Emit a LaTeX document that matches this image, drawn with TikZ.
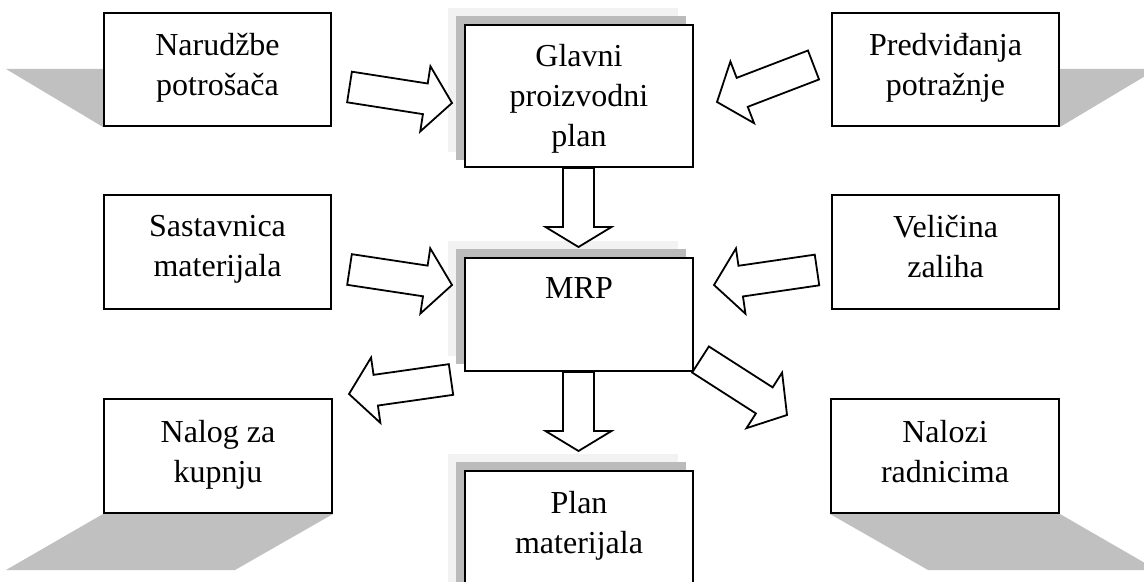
\documentclass[tikz,border=0pt]{standalone}
\usepackage{fontspec}
\setmainfont{Liberation Serif}
\usetikzlibrary{calc,backgrounds}
\definecolor{shadowdark}{HTML}{BBBBBB}
\definecolor{shadowlight}{HTML}{F2F2F2}
\definecolor{castshadow}{HTML}{C0C0C0}
\tikzset{
  box/.style={draw=black, line width=1pt, fill=white, inner sep=0pt},
  boxtext/.style={anchor=north, inner sep=0pt, align=center, font=\fontsize{16pt}{20pt}\selectfont},
  blockarrow/.style={draw=black, line width=0.9pt, fill=white, line join=miter},
}
\newcommand\blockarr[3]{%
  \path ($(#2)!#3!(#1)$) coordinate (neck);
  \draw[blockarrow] ($(#1)!7.75pt!90:(#2)$) -- ($(neck)!7.75pt!-90:(#1)$) -- ($(neck)!16.5pt!-90:(#1)$) -- (#2) -- ($(neck)!16.5pt!90:(#1)$) -- ($(neck)!7.75pt!90:(#1)$) -- ($(#1)!7.75pt!-90:(#2)$) -- cycle;
}
\begin{document}
\begin{tikzpicture}[x=0.5pt,y=-0.5pt]
\useasboundingbox (0,0) rectangle (1144,582);
\clip (0,0) rectangle (1144,582);
% boxes
\node[box, minimum width=113.5pt, minimum height=56.5pt] (nar) at (217.5,69.5) {};
\node[box, minimum width=113.5pt, minimum height=56.5pt] (pred) at (945.5,69.5) {};
\node[box, minimum width=113.5pt, minimum height=57pt] (sast) at (217.5,252) {};
\node[box, minimum width=113.5pt, minimum height=57pt] (vel) at (945.5,252) {};
\node[box, minimum width=114pt, minimum height=71pt] (glavni) at (579,96) {};
\node[box, minimum width=114pt, minimum height=56.5pt] (mrp) at (579,314.5) {};
\node[box, minimum width=114pt, minimum height=71pt] (plan) at (579,542) {};
\node[box, minimum width=114pt, minimum height=57pt] (nalog) at (218,456) {};
\node[box, minimum width=114pt, minimum height=57pt] (nalozi) at (945,456) {};
% shadows
\begin{scope}[on background layer]
  \foreach \b in {glavni,mrp,plan}{
    \fill[shadowlight] ($(\b.south west)+(-16,-16)$) rectangle ($(\b.north east)+(-16,-16)$);
    \fill[shadowdark] ($(\b.south west)+(-8,-8)$) rectangle ($(\b.north east)+(-8,-8)$);
  }
  \fill[castshadow] (nar.south west) -- ($(nar.north west)+(-97,57)$) -- ($(nar.north west)+(0,57)$) -- cycle;
  \fill[castshadow] (pred.south east) -- ($(pred.north east)+(97,57)$) -- ($(pred.north east)+(0,57)$) -- cycle;
  \fill[castshadow] (nalog.south west) -- (nalog.south east) -- ($(nalog.south east)+(-98,56)$) -- ($(nalog.south west)+(-97,56)$) -- cycle;
  \fill[castshadow] (nalozi.south west) -- (nalozi.south east) -- ($(nalozi.south east)+(97,56)$) -- ($(nalozi.south west)+(98,56)$) -- cycle;
\end{scope}
% texts
\node[boxtext] (nar-t) at ($(nar.north)+(0,21)$) {Narudžbe\\potrošača};
\node[boxtext] (pred-t) at ($(pred.north)+(0,21)$) {Predviđanja\\potražnje};
\node[boxtext] (sast-t) at ($(sast.north)+(0,21)$) {Sastavnica\\materijala};
\node[boxtext] (vel-t) at ($(vel.north)+(0,21)$) {Veličina\\zaliha};
\node[boxtext] (glavni-t) at ($(glavni.north)+(0,20)$) {Glavni\\proizvodni\\plan};
\node[boxtext] (mrp-t) at ($(mrp.north)+(0,20)$) {MRP};
\node[boxtext] (plan-t) at ($(plan.north)+(0,21)$) {Plan\\materijala};
\node[boxtext] (nalog-t) at ($(nalog.north)+(0,22)$) {Nalog za\\kupnju};
\node[boxtext] (nalozi-t) at ($(nalozi.north)+(0,22)$) {Nalozi\\radnicima};
% arrow end points
\coordinate (a1s) at (349.5,87);   \coordinate (a1e) at (452,103);
\coordinate (a2s) at (813.5,65);   \coordinate (a2e) at (717,102);
\coordinate (a3s) at (349.5,269.5); \coordinate (a3e) at (452,285);
\coordinate (a4s) at (817,270);    \coordinate (a4e) at (714,285);
\coordinate (a5s) at (451,379.5);  \coordinate (a5e) at (349,394);
\coordinate (a6s) at (700.5,359.5); \coordinate (a6e) at (787,415);
\coordinate (d1e) at (578.5,247);
\coordinate (d2e) at (578.5,451);
\coordinate (d1s) at (glavni.south -| d1e);
\coordinate (d2s) at (mrp.south -| d2e);
% arrows
\blockarr{a1s}{a1e}{13.5pt}
\blockarr{a2s}{a2e}{13.5pt}
\blockarr{a3s}{a3e}{13.5pt}
\blockarr{a4s}{a4e}{13.5pt}
\blockarr{a5s}{a5e}{13.5pt}
\blockarr{a6s}{a6e}{13.5pt}
\blockarr{d1s}{d1e}{10pt}
\blockarr{d2s}{d2e}{10pt}
\end{tikzpicture}
\end{document}
